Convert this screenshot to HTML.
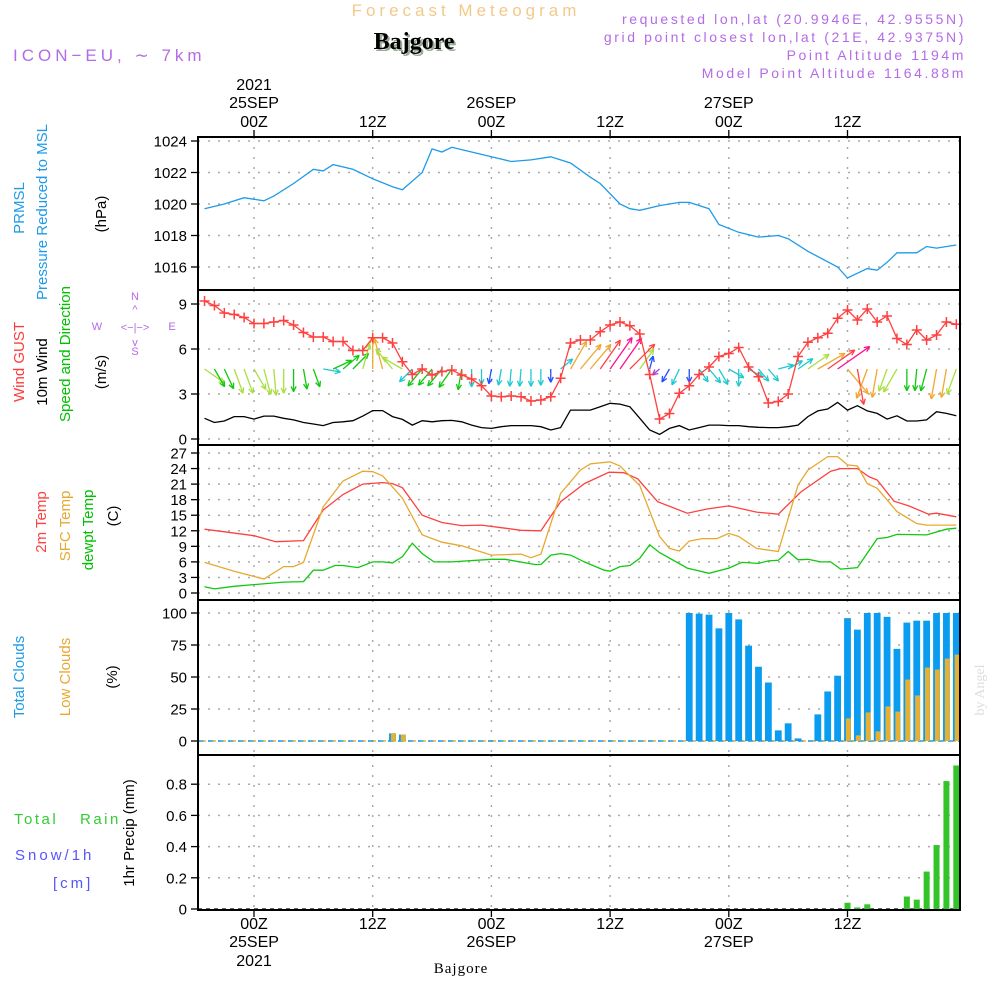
<!DOCTYPE html>
<html><head><meta charset="utf-8"><style>
body{margin:0;background:#fff;width:1000px;height:1000px;overflow:hidden}
svg{display:block;font-family:"Liberation Sans",sans-serif}
</style></head><body>
<svg id="c" width="1000" height="1000" viewBox="0 0 1000 1000" xmlns="http://www.w3.org/2000/svg">
<g>
<text x="466" y="16" text-anchor="middle" font-size="17" letter-spacing="4" fill="#f3c98a">Forecast Meteogram</text>
<text x="414" y="49" text-anchor="middle" font-size="24" font-weight="bold" font-family="Liberation Serif,serif" fill="#9a9" transform="translate(2,2)">Bajgore</text>
<text x="414" y="49" text-anchor="middle" font-size="24" font-weight="bold" font-family="Liberation Serif,serif" fill="#000">Bajgore</text>
<text x="13" y="61" font-size="17" letter-spacing="4" fill="#b36be6">ICON−EU, ∼ 7km</text>
<g font-size="14" fill="#b36be6" text-anchor="end" letter-spacing="2.6">
<text x="966" y="24">requested lon,lat (20.9946E, 42.9555N)</text>
<text x="966" y="42">grid point closest lon,lat (21E, 42.9375N)</text>
<text x="966" y="60">Point Altitude 1194m</text>
<text x="966" y="78">Model Point Altitude 1164.88m</text>
</g>
</g>
<g id="plots"></g>
<g font-size="15">
<text transform="translate(24,208) rotate(-90)" text-anchor="middle" fill="#1e9be8">PRMSL</text>
<text transform="translate(47,212) rotate(-90)" text-anchor="middle" fill="#1e9be8">Pressure Reduced to MSL</text>
<text transform="translate(106,214) rotate(-90)" text-anchor="middle" fill="#000">(hPa)</text>
<text transform="translate(24,362) rotate(-90)" text-anchor="middle" fill="#ff3b3b">Wind GUST</text>
<text transform="translate(47,372) rotate(-90)" text-anchor="middle" fill="#000">10m Wind</text>
<text transform="translate(70,354) rotate(-90)" text-anchor="middle" fill="#00c000">Speed and Direction</text>
<text transform="translate(106,372) rotate(-90)" text-anchor="middle" fill="#000">(m/s)</text>
<g fill="#b36be6" font-size="11">
<text x="135" y="300" text-anchor="middle">N</text><text x="135" y="355" text-anchor="middle">S</text>
<text x="97" y="330" text-anchor="middle">W</text><text x="172" y="330" text-anchor="middle">E</text>
<text x="135" y="331" text-anchor="middle">&lt;−|−&gt;</text>
<text x="135" y="313" text-anchor="middle">^</text><text x="135" y="346" text-anchor="middle">v</text>
</g>
<text transform="translate(46,522) rotate(-90)" text-anchor="middle" fill="#ff4040">2m Temp</text>
<text transform="translate(70,526) rotate(-90)" text-anchor="middle" fill="#e8a830">SFC Temp</text>
<text transform="translate(93,530) rotate(-90)" text-anchor="middle" fill="#00c000">dewpt Temp</text>
<text transform="translate(118,516) rotate(-90)" text-anchor="middle" fill="#000">(C)</text>
<text transform="translate(24,677) rotate(-90)" text-anchor="middle" fill="#1e9be8">Total Clouds</text>
<text transform="translate(70,677) rotate(-90)" text-anchor="middle" fill="#e8a830">Low Clouds</text>
<text transform="translate(117,677) rotate(-90)" text-anchor="middle" fill="#000">(%)</text>
<text transform="translate(134,833) rotate(-90)" text-anchor="middle" fill="#000">1hr Precip (mm)</text>
<text x="14" y="824" fill="#33cc33" letter-spacing="2.5">Total</text>
<text x="80" y="824" fill="#33cc33" letter-spacing="2.5">Rain</text>
<text x="15" y="860" fill="#5555ff" letter-spacing="3">Snow/1h</text>
<text x="53" y="888" fill="#5555ff" letter-spacing="3">[cm]</text>
</g>
<text transform="translate(984,690) rotate(-90)" text-anchor="middle" font-size="14" font-family="Liberation Serif,serif" fill="#ddd">by Angel</text>
<text x="461" y="973" text-anchor="middle" font-size="15" font-family="Liberation Serif,serif" letter-spacing="1" fill="#000">Bajgore</text>
</svg>
<script>
// ---- data ----
const pressHours=[-5,-3,-1,1,2,4,6,7,8,10,12,14,15,17,18,19,20,22,24,26,28,30,32,34,35,37,38,39,41,43,44,46,47,49,51,53,54,56,59,60,62,63,64,65,67,68,69,71];
const pressVals=[1019.7,1020.0,1020.4,1020.2,1020.5,1021.3,1022.2,1022.1,1022.5,1022.2,1021.6,1021.1,1020.9,1022.0,1023.5,1023.3,1023.6,1023.3,1023.0,1022.7,1022.8,1023.0,1022.6,1021.7,1021.3,1020.0,1019.7,1019.6,1019.9,1020.1,1020.1,1019.7,1018.7,1018.2,1017.9,1018.0,1017.8,1017.0,1016.0,1015.3,1015.9,1015.8,1016.3,1016.9,1016.9,1017.3,1017.2,1017.4];
const pressTicks=[1016,1018,1020,1022,1024];
const gustVals=[9.2,8.9,8.4,8.3,8.1,7.7,7.7,7.8,7.9,7.6,7.1,6.8,6.8,6.5,6.5,5.9,5.9,6.75,6.75,6.4,5.15,4.3,4.67,4.27,4.5,4.6,4.27,4.0,3.55,2.87,2.82,2.87,2.82,2.53,2.6,2.82,4.05,6.4,6.6,6.6,7.15,7.6,7.8,7.55,7.0,4.3,1.33,1.7,3.05,3.55,4.3,4.8,5.5,5.7,6.1,4.8,4.15,2.4,2.5,3.0,5.5,6.45,6.75,7.05,8.05,8.6,7.93,8.67,7.8,8.2,6.7,6.3,7.27,6.6,6.93,7.8,7.65];
const windVals=[1.38,1.1,1.2,1.49,1.49,1.33,1.53,1.53,1.38,1.27,1.1,1.0,0.89,1.1,1.15,1.22,1.53,1.89,1.89,1.49,1.31,0.93,1.22,1.15,1.22,1.24,1.15,0.93,0.76,0.71,0.82,0.89,0.89,0.89,0.82,0.6,0.76,1.93,1.93,1.93,2.15,2.38,2.33,2.15,1.38,0.6,0.31,0.71,0.89,0.6,0.76,0.93,0.93,0.89,0.89,0.82,0.78,0.76,0.76,0.82,0.93,1.49,1.87,2.0,2.44,1.93,2.22,1.87,1.71,1.33,1.55,1.2,1.2,1.27,1.82,1.71,1.55];
const windDirs=[125,150,155,160,160,150,165,175,180,180,170,160,100,65,50,45,15,0,345,320,300,225,220,220,220,215,190,180,180,190,190,185,185,180,180,180,50,30,40,40,35,35,35,45,35,15,230,210,205,180,145,140,150,120,180,120,140,140,75,60,55,55,60,55,55,140,170,200,190,200,210,180,185,195,190,190,200];
const windTicks=[0,3,6,9];
const t2Hours=[-5,0,2.2,5,7,9,11,13,14,15,17,19,21,23,25,27,29,31,33.4,35.9,37.4,38.8,40.8,43.8,45.8,48,50.8,53,55.3,58.3,59.3,61,62.2,63,64.7,66.2,68.2,69,71];
const t2Vals=[12.3,11.05,9.9,10.1,16,19,21,21.3,21.1,20.3,15.0,13.6,13.0,13.1,12.6,12.1,12.0,17.6,21.1,23.3,23.2,22.0,17.6,15.4,16.2,16.8,15.6,15.2,19.5,23.5,24.0,24.0,22.4,21.8,17.7,16.8,15.2,15.4,14.7];
const sfcHours=[-5,-2,1,3,4,5,7,9,11,12,13,15,17,19,21,24,27,28,29,31,33,34,36,37,39,41,42,43,44,45.3,46.8,48,49,50.8,53,55,56,58,59,60,61,62,63,65,67,68,71];
const sfcVals=[5.9,4.2,2.7,5.1,5.1,5.9,16.6,21.6,23.5,23.4,22.6,18.3,11.2,9.8,9.1,7.3,7.5,6.8,7.5,19.2,23.7,24.9,25.3,24.5,20.7,10.9,8.6,8.1,10.0,10.5,10.5,11.5,10.9,8.6,8.0,20.8,23.7,26.3,26.3,24.7,24.5,21.1,20.2,15.7,13.4,13.1,13.1];
const dewHours=[-5,-4,-2,3,5,6,7,8.2,9,10.5,12,13,14,15,16,17,18.2,20,24,25.4,28.4,29,30,31,32,33.4,35.4,36,37,38,39,40,41,43.8,46,48,49.3,51,52,53,54,55,56,57.3,58.3,59.3,61,63,64,65,68,70,71];
const dewVals=[1.2,0.8,1.3,2.1,2.2,4.4,4.4,5.3,5.3,4.9,6.0,6.0,5.8,7.0,9.6,7.6,6.0,6.0,6.5,6.5,5.5,5.5,7.3,7.6,7.3,6.0,4.4,4.2,5.1,5.3,6.7,9.3,7.8,4.8,3.8,4.8,5.9,5.7,6.2,6.3,8.0,6.4,6.5,6.0,6.0,4.6,4.9,10.5,10.7,11.3,11.2,12.3,12.5];
const tempTicks=[0,3,6,9,12,15,18,21,24,27];
const cloudHours=[14,15,44,45,46,47,48,49,50,51,52,53,54,55,56,57,58,59,60,61,62,63,64,65,66,67,68,69,70,71];
const totalCloud=[6,5,100,99.5,98.7,88,100,95,74.5,58,45.7,8.3,13.8,2,0,20.8,38.7,51,96,87,100,100,97,72,92.5,94,94,100,100,100];
const lowCloud=[6,5,0,0,0,0,0,0,0,0,0,0,0,0,0,0,0,0,17.7,4.4,22.3,7.5,27,23,48,35.6,57.4,55.8,64.4,67.5];
const cloudTicks=[0,25,50,75,100];
const rainHours=[60,61,62,66,67,68,69,70,71];
const rainVals=[0.04,0.01,0.03,0.08,0.06,0.24,0.41,0.82,0.92];
const rainTicks=[0,0.2,0.4,0.6,0.8];
const gridHours=[0,12,24,36,48,60];
const dayLabels=[["00Z","25SEP","2021"],["12Z"],["00Z","26SEP"],["12Z"],["00Z","27SEP"],["12Z"]];

// ---- scales ----
const L=198,R=960;
const X=h=>254+h*9.8917;
const yP=v=>141+(1024-v)*15.75;
const yW=v=>439-v*15;
const yT=v=>593-v*5.185;
const yC=v=>741-v*1.28;
const yR=v=>909-v*156;
const NS="http://www.w3.org/2000/svg";
const root=document.getElementById('plots');
function mk(tag,attrs,parent){const e=document.createElementNS(NS,tag);for(const k in attrs)e.setAttribute(k,attrs[k]);(parent||root).appendChild(e);return e;}
function path(xs,ys,col,name){
  const d=xs.map((x,i)=>(i?'L':'M')+x.toFixed(1)+' '+ys[i].toFixed(1)).join('');
  const p=mk('path',{d:d,fill:'none',stroke:col,'stroke-width':1.3});
  
  
  return p;
}
function panel(name,top,bot,ticks,yf,fmt){
  const g=mk('g',{});
  
  
  ticks.forEach(t=>{
    const y=yf(t);
    if(y>top+2&&y<bot-2||t===ticks[ticks.length-1]){
      const gl=mk('line',{x1:L,x2:R,y1:y,y2:y,stroke:'#aaa','stroke-width':1.5,'stroke-dasharray':'2 8'},g);
      
      
    }
    mk('line',{x1:L-7,x2:L,y1:y,y2:y,stroke:'#000','stroke-width':1.3},g);
    const tx=mk('text',{x:L-11,y:y+5.5,'text-anchor':'end','font-size':15,fill:'#000'},g);
    tx.textContent=fmt?fmt(t):t;
    
    
  });
  gridHours.forEach(h=>{
    const vl=mk('line',{x1:X(h),x2:X(h),y1:top,y2:bot,stroke:'#aaa','stroke-width':1.5,'stroke-dasharray':'2 8'},g);
    
    
  });
  return g;
}
panel('pressure-panel',137,290,pressTicks,yP);
panel('wind-panel',290,445,windTicks,yW);
panel('temp-panel',445,600,tempTicks,yT);
panel('cloud-panel',600,755,cloudTicks,yC);
panel('precip-panel',755,910,rainTicks,yR,v=>v===0?'0':v.toFixed(1));

path(pressHours.map(X),pressVals.map(yP),'#1e9be8','pressure-line');
const hrs=gustVals.map((v,i)=>i-5);
path(hrs.map(X),windVals.map(yW),'#000','wind-speed-line');
function windColor(s){if(s<0.5)return'#a040e0';if(s<0.75)return'#2050ff';if(s<0.95)return'#20c8d0';if(s<1.3)return'#10c810';if(s<1.6)return'#a8e040';if(s<2.0)return'#f0a830';if(s<2.3)return'#ff4040';return'#ff1090';}
windDirs.forEach((a,i)=>{
  const s=windVals[i],len=5+14*s,r=a*Math.PI/180;
  const x0=X(hrs[i]),y0=369,x1=x0+len*Math.sin(r),y1=y0-len*Math.cos(r);
  const c=windColor(s);
  const g=mk('g',{stroke:c,'stroke-width':1.3,fill:'none'});
  
  
  mk('line',{x1:x0,y1:y0,x2:x1,y2:y1},g);
  [25,-25].forEach(d=>{const rr=(a+180+d)*Math.PI/180;mk('line',{x1:x1,y1:y1,x2:x1+6*Math.sin(rr),y2:y1-6*Math.cos(rr)},g);});
});
path(hrs.map(X),gustVals.map(yW),'#ff4040','gust-line');
gustVals.forEach((v,i)=>{
  const x=X(hrs[i]),y=yW(v);
  const m=mk('path',{d:`M${x-5} ${y}H${x+5}M${x} ${y-5}V${y+5}`,stroke:'#ff4040','stroke-width':1.5});
  
  
});
path(t2Hours.map(X),t2Vals.map(yT),'#ff4040','2m-temp-line');
path(sfcHours.map(X),sfcVals.map(yT),'#e8a830','sfc-temp-line');
path(dewHours.map(X),dewVals.map(yT),'#10c810','dewpoint-line');
mk('line',{x1:L,x2:R,y1:yC(0),y2:yC(0),stroke:'#1e9be8','stroke-width':1.5,'stroke-dasharray':'6 4'});
mk('line',{x1:L+5,x2:R,y1:yC(0),y2:yC(0),stroke:'#e8b030','stroke-width':1.5,'stroke-dasharray':'3 7'});
cloudHours.forEach((h,i)=>{
  const x=X(h);
  if(totalCloud[i]>0){const b=mk('rect',{x:x-3.4,y:yC(totalCloud[i]),width:6.8,height:yC(0)-yC(totalCloud[i]),fill:'#0a9cf0'});
  
  }
  if(lowCloud[i]>0){const b=mk('rect',{x:x-1.6,y:yC(lowCloud[i]),width:4.8,height:yC(0)-yC(lowCloud[i]),fill:'#e8b030'});
  
  }
});
mk('line',{x1:L,x2:R,y1:yR(0),y2:yR(0),stroke:'#333','stroke-width':1.5,'stroke-dasharray':'4 4'});
rainHours.forEach((h,i)=>{
  const b=mk('rect',{x:X(h)-3,y:yR(rainVals[i]),width:6,height:yR(0)-yR(rainVals[i]),fill:'#33c42a'});
  
  
});
[[137,290],[290,445],[445,600],[600,755],[755,910]].forEach(([t,b])=>{
  const f=mk('rect',{x:L,y:t,width:R-L,height:b-t,fill:'none',stroke:'#000','stroke-width':2});
  
  
});
gridHours.forEach((h,i)=>{
  const x=X(h);
  mk('line',{x1:x,x2:x,y1:130,y2:137,stroke:'#000','stroke-width':1.3});
  mk('line',{x1:x,x2:x,y1:910,y2:917,stroke:'#000','stroke-width':1.3});
  const lab=dayLabels[i];
  const tops=[127,108,90];
  lab.forEach((s,j)=>{
    const t=mk('text',{x:x,y:tops[j],'text-anchor':'middle','font-size':16,fill:'#000'});
    t.textContent=s;
    
    
    const b=mk('text',{x:x,y:[929,947,966][j],'text-anchor':'middle','font-size':16,fill:'#000'});
    b.textContent=s;
    
    
  });
});
</script>
</body></html>
